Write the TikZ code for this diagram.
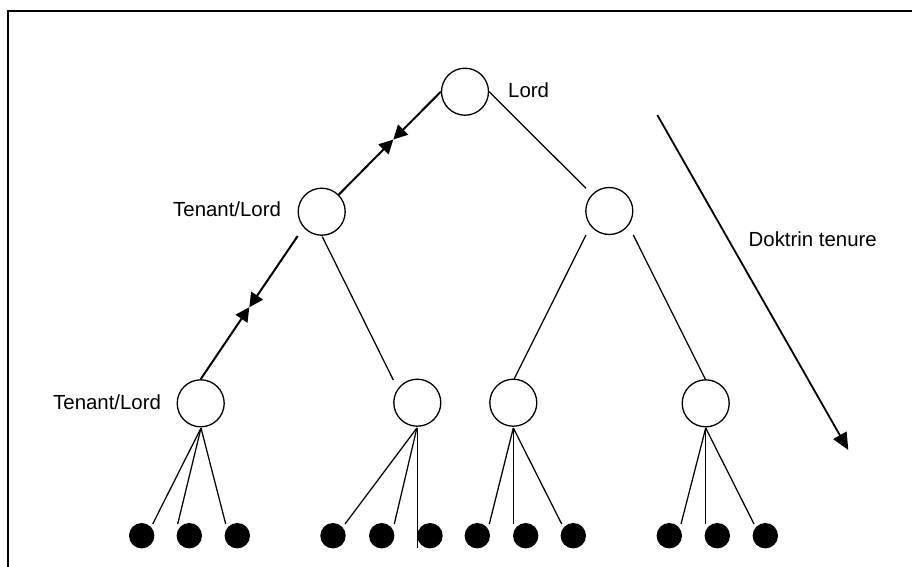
\documentclass[tikz,border=0pt]{standalone}
\usepackage{fontspec}
\setmainfont{Liberation Sans}
\usetikzlibrary{arrows.meta}
\begin{document}
\begin{tikzpicture}[x=1pt,y=-1pt,
  holder/.style={circle,draw,line width=1.3pt,minimum size=47pt,inner sep=0pt},
  leaf/.style={circle,fill=black,minimum size=25.4pt,inner sep=0pt},
  thin/.style={line width=1.25pt},
  heavy/.style={line width=2pt,-{Triangle[length=14pt,width=14pt]}},
  lbl/.style={font=\fontsize{20.4pt}{24pt}\selectfont,inner sep=0pt,anchor=base west}]
\useasboundingbox (0,0) rectangle (912,566);
\draw[line width=1.8pt] (8.2,570) -- (8.2,10.8) -- (915,10.8);

% holders
\node[holder] (lord) at (465,91.7) {};
\node[holder] (tl) at (321.7,211.7) {};
\node[holder] (tr) at (609.3,211) {};
\node[holder] (a) at (200.7,403.3) {};
\node[holder] (b) at (417.3,402.7) {};
\node[holder] (c) at (513.3,402.7) {};
\node[holder] (d) at (705.7,403.3) {};

% labels
\node[lbl] (lordlbl) at (508,97.5) {Lord};
\node[lbl] (tllbl) at (173,216.5) {Tenant/Lord};
\node[lbl] (albl) at (53,409.5) {Tenant/Lord};
\node[lbl] (dlbl) at (748.5,246.8) {Doktrin tenure};

% leaves
\foreach \n/\x in {a1/141.7,a2/189.3,a3/237.3,b1/333,b2/381.7,b3/430,c1/477.3,c2/525.7,c3/573.3,d1/669.3,d2/717.3,d3/765.3}
  \node[leaf] (\n) at (\x,535.7) {};

% coordinates
\coordinate (m1) at (393.3,139.5);
\coordinate (m2) at (249.3,307.2);
\coordinate (tlsw) at (297.7,236);
\coordinate (tls) at (322.3,236.7);
\coordinate (bnw) at (393.3,380);
\coordinate (trsw) at (586,235);
\coordinate (trse) at (633.3,235);
\coordinate (ctop) at (514,379.3);
\coordinate (dtop) at (705.5,379.5);
\coordinate (trnw) at (586,188.3);
\coordinate (dk1) at (657.3,115);
\coordinate (dk2) at (848.3,450);

% upper connectors
\draw[heavy] (lord.west) -- (m1);
\draw[heavy] (tl.north east) -- (m1);
\draw[thin] (lord.east) -- (trnw);
\draw[heavy] (tlsw) -- (m2);
\draw[heavy] (a.north) -- (m2);
\draw[thin] (tls) -- (bnw);
\draw[thin] (trsw) -- (ctop);
\draw[thin] (trse) -- (dtop);

% leaf connectors
\coordinate (as) at (201,428);
\coordinate (bs) at (416.9,428);
\coordinate (cs) at (513.3,428);
\coordinate (ds) at (705.7,428);
\draw[thin] (as) -- (152.7,524) coordinate (ea1);
\draw[thin] (as) -- (177.7,524) coordinate (ea2);
\draw[thin] (as) -- (225.7,524) coordinate (ea3);
\draw[thin] (bs) -- (345,524) coordinate (eb1);
\draw[thin] (bs) -- (394.3,524) coordinate (eb2);
\draw[thin] (417.3,428) -- (417.3,548) coordinate (eb3);
\draw[thin] (cs) -- (489.3,524) coordinate (ec1);
\draw[thin] (cs) -- (513.3,524) coordinate (ec2);
\draw[thin] (cs) -- (561.7,524) coordinate (ec3);
\draw[thin] (ds) -- (681,524) coordinate (ed1);
\draw[thin] (ds) -- (705.7,524) coordinate (ed2);
\draw[thin] (ds) -- (754,524) coordinate (ed3);

% doktrin arrow
\draw[line width=1.8pt,-{Triangle[length=17pt,width=15pt]}] (dk1) -- (dk2);
\end{tikzpicture}
\end{document}
